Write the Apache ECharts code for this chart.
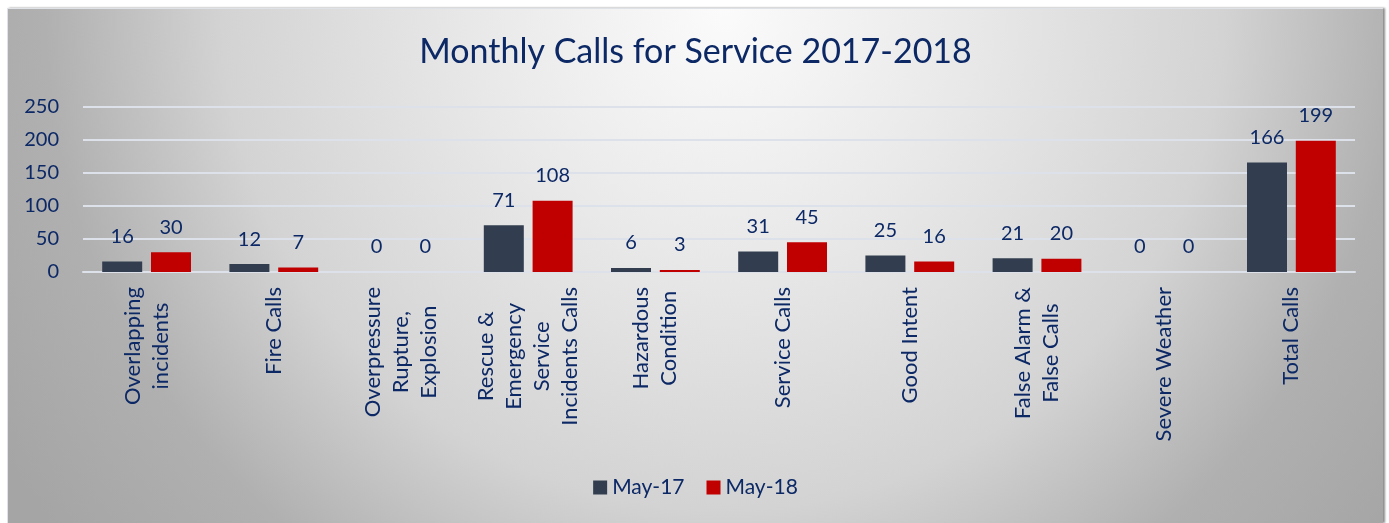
<!DOCTYPE html>
<html>
<head>
<meta charset="utf-8">
<script src="https://cdn.jsdelivr.net/npm/echarts@6/dist/echarts.min.js"></script>
<style>
    html, body { margin: 0; padding: 0; background: #ffffff; }
    #main {
        position: absolute;
        left: 7px;
        top: 8px;
        width: 1376px;
        height: 515px;
        border-top: 1px solid #dfe3e8;
        border-left: 1px solid #dfe3e8;
        box-shadow: 2px 0 2px #8c8c8c;
        box-sizing: border-box;
    }
</style>
</head>
<body>
<div id="main"></div>
<script>
// 分类
const categories = [
    'Overlapping\nincidents',
    'Fire Calls',
    'Overpressure\nRupture,\nExplosion',
    'Rescue &\nEmergency\nService\nIncidents Calls',
    'Hazardous\nCondition',
    'Service Calls',
    'Good Intent',
    'False Alarm &\nFalse Calls',
    'Severe Weather',
    'Total Calls'
];

// 两个月的数据
const may17 = [16, 12, 0, 71, 6, 31, 25, 21, 0, 166];
const may18 = [30, 7, 0, 108, 3, 45, 16, 20, 0, 199];

const yTicks = [0, 50, 100, 150, 200, 250];

const textColor = '#0c2865';
const fontFamily = 'Lato, "Open Sans", sans-serif';

const myChart = echarts.init(document.getElementById('main'));

const option = {
    backgroundColor: {
        type: 'radial',
        x: 0.52,
        y: 0,
        r: 1.65,
        colorStops: [
            { offset: 0, color: '#fbfbfb' },
            { offset: 0.3, color: '#e8e8e8' },
            { offset: 0.59, color: '#d3d3d3' },
            { offset: 0.8, color: '#b0b0b0' },
            { offset: 1, color: '#a5a5a5' }
        ]
    },
    textStyle: { fontFamily: fontFamily },
    title: {
        text: 'Monthly Calls for Service 2017-2018',
        left: 'center',
        top: 21,
        textStyle: {
            color: textColor,
            fontSize: 34,
            fontWeight: 'normal',
            fontFamily: fontFamily
        }
    },
    legend: {
        bottom: 20,
        left: 'center',
        icon: 'rect',
        itemWidth: 14,
        itemHeight: 14,
        itemGap: 22,
        textStyle: { color: textColor, fontSize: 21, fontFamily: fontFamily },
        data: ['May-17', 'May-18']
    },
    grid: {
        left: 75,
        right: 28,
        top: 98,
        bottom: 251
    },
    xAxis: {
        type: 'category',
        data: categories,
        axisLine: { lineStyle: { color: '#dde2ea', width: 2 } },
        axisTick: { show: false },
        axisLabel: {
            interval: 0,
            rotate: 90,
            margin: 15,
            color: textColor,
            fontSize: 22,
            lineHeight: 28,
            fontFamily: fontFamily,
            formatter: function (value) {
                return value.split('\n').map(line => '{c|' + line + '}').join('\n');
            },
            rich: {
                c: {
                    align: 'center',
                    color: textColor,
                    fontSize: 22,
                    lineHeight: 28,
                    fontFamily: fontFamily
                }
            }
        }
    },
    yAxis: {
        type: 'value',
        min: yTicks[0],
        max: yTicks[yTicks.length - 1],
        interval: yTicks[1] - yTicks[0],
        axisLine: { show: false },
        axisTick: { show: false },
        axisLabel: {
            margin: 24,
            color: textColor,
            fontSize: 20,
            fontFamily: fontFamily
        },
        splitLine: { lineStyle: { color: '#dde2ea', width: 2 } }
    },
    series: [
        {
            name: 'May-17',
            type: 'bar',
            data: may17,
            barWidth: 40,
            barGap: '22%',
            itemStyle: { color: '#323e4f' },
            label: {
                show: true,
                position: 'top',
                distance: 15,
                color: textColor,
                fontSize: 20,
                fontFamily: fontFamily
            }
        },
        {
            name: 'May-18',
            type: 'bar',
            data: may18,
            barWidth: 40,
            itemStyle: { color: '#c00000' },
            label: {
                show: true,
                position: 'top',
                distance: 15,
                color: textColor,
                fontSize: 20,
                fontFamily: fontFamily
            }
        }
    ]
};

myChart.setOption(option);
</script>
</body>
</html>
